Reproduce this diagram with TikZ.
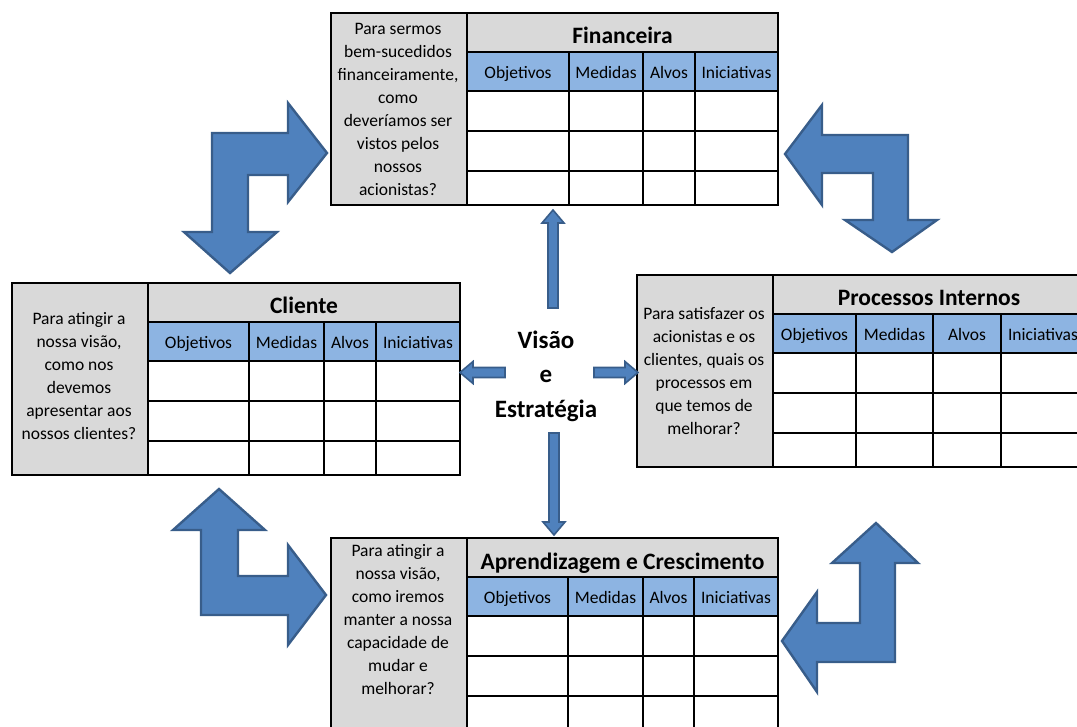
\documentclass[tikz,border=0pt]{standalone}
\usepackage{fontspec}
\setmainfont{Carlito}
\usetikzlibrary{positioning}
\definecolor{cinza}{RGB}{217,217,217}
\definecolor{azulcab}{RGB}{141,180,226}
\definecolor{azulseta}{RGB}{79,129,189}
\definecolor{azulborda}{RGB}{56,93,138}
\tikzset{
  grade/.style={line width=1.6pt,black},
  moldura/.style={line width=2pt,black},
  pergunta/.style={align=center,font=\fontsize{17.5}{23}\selectfont},
  titulo/.style={font=\fontsize{23.5}{26}\selectfont\bfseries,text height=16pt,text depth=5pt},
  cabec/.style={font=\fontsize{17.5}{20}\selectfont,text height=12pt,text depth=4pt},
  centro/.style={align=center,font=\fontsize{25}{34.5}\selectfont\bfseries},
  setagrande/.style={fill=azulseta,draw=azulborda,line width=2.4pt,line join=miter},
  setinha/.style={fill=azulseta,draw=azulborda,line width=1.6pt,line join=miter}
}
% table: name, shift, col1, col2, col3, right, title, question, question y
\newcommand{\tabela}[9]{%
  \begin{scope}[shift={#2}]
    \fill[cinza] (0,0) rectangle (#6,39);
    \fill[cinza] (0,0) rectangle (136,192);
    \fill[azulcab] (136,39) rectangle (#6,78);
    \fill[white] (136,78) rectangle (#6,192);
    \foreach \y in {39,78,118,158} \draw[grade] (136,\y) -- (#6,\y);
    \foreach \x in {#3,#4,#5} \draw[grade] (\x,39) -- (\x,192);
    \draw[grade] (136,0) -- (136,192);
    \draw[moldura] (0,0) rectangle (#6,192);
    \node[titulo] (#1-tit) at ({(136+#6)/2},25.5) {#7};
    \node[cabec] (#1-obj) at ({(136+#3)/2},61.5) {Objetivos};
    \node[cabec] (#1-med) at ({(#3+#4)/2},61.5) {Medidas};
    \node[cabec] (#1-alv) at ({(#4+#5)/2},61.5) {Alvos};
    \node[cabec] (#1-ini) at ({(#5+#6)/2},61.5) {Iniciativas};
    \node[pergunta] (#1-perg) at (67,#9) {#8};
  \end{scope}}
\newcommand{\setinha}[3]{%
  \draw[setinha,shift={#1},rotate=#2] (-5,0) -- (-5,-#3+13) -- (-11,-#3+13) -- (0,-#3)
    -- (11,-#3+13) -- (5,-#3+13) -- (5,0) -- cycle;}

\begin{document}
\begin{tikzpicture}[x=1pt,y=-1pt]
  \useasboundingbox (0,0) rectangle (1077,727);
  \clip (0,0) rectangle (1077,727);
  % four perspectives
  \tabela{fin}{(331,13)}{238}{312}{364}{447}{Financeira}
    {Para sermos\\bem-sucedidos\\financeiramente,\\como\\deveríamos ser\\vistos pelos\\nossos\\acionistas?}{96}
  \tabela{cli}{(12,283)}{237}{312}{364}{448}{Cliente}
    {Para atingir a\\nossa visão,\\como nos\\devemos\\apresentar aos\\nossos clientes?}{93}
  \tabela{pro}{(637,275)}{219}{296}{364}{448}{Processos Internos}
    {Para satisfazer os\\acionistas e os\\clientes, quais os\\processos em\\que temos de\\melhorar?}{96}
  \tabela{apr}{(331,538)}{237}{312}{363}{447}{Aprendizagem e Crescimento}
    {Para atingir a\\nossa visão,\\como iremos\\manter a nossa\\capacidade de\\mudar e\\melhorar?}{82}
  % centre
  \node[centro] (vis) at (546,376) {Visão\\e\\Estratégia};
  \setinha{(553,308)}{0}{98}
  \setinha{(554,433)}{180}{102}
  \setinha{(505,372.5)}{90}{45}
  \setinha{(594,372.5)}{-90}{44}
  % bent arrows
  \draw[setagrande] (212,133) -- (288,133) -- (288,103) -- (327,153) -- (288,202) -- (288,175)
    -- (248,175) -- (248,232) -- (277,232) -- (230,273) -- (184,232) -- (212,232) -- cycle;
  \draw[setagrande] (785,154) -- (822,105) -- (822,135) -- (908,135) -- (908,220) -- (937,220)
    -- (892,252) -- (845,220) -- (873,220) -- (873,173) -- (822,173) -- (822,205) -- cycle;
  \draw[setagrande] (219,489) -- (265,530) -- (238,530) -- (238,576) -- (288,576) -- (288,545)
    -- (326,595) -- (288,645) -- (288,615) -- (201,615) -- (201,530) -- (173,530) -- cycle;
  \draw[setagrande] (876,523) -- (918,563) -- (895,563) -- (895,662) -- (817,662) -- (817,692)
    -- (782,641) -- (817,592) -- (817,623) -- (860,623) -- (860,563) -- (832,563) -- cycle;
\end{tikzpicture}
\end{document}
